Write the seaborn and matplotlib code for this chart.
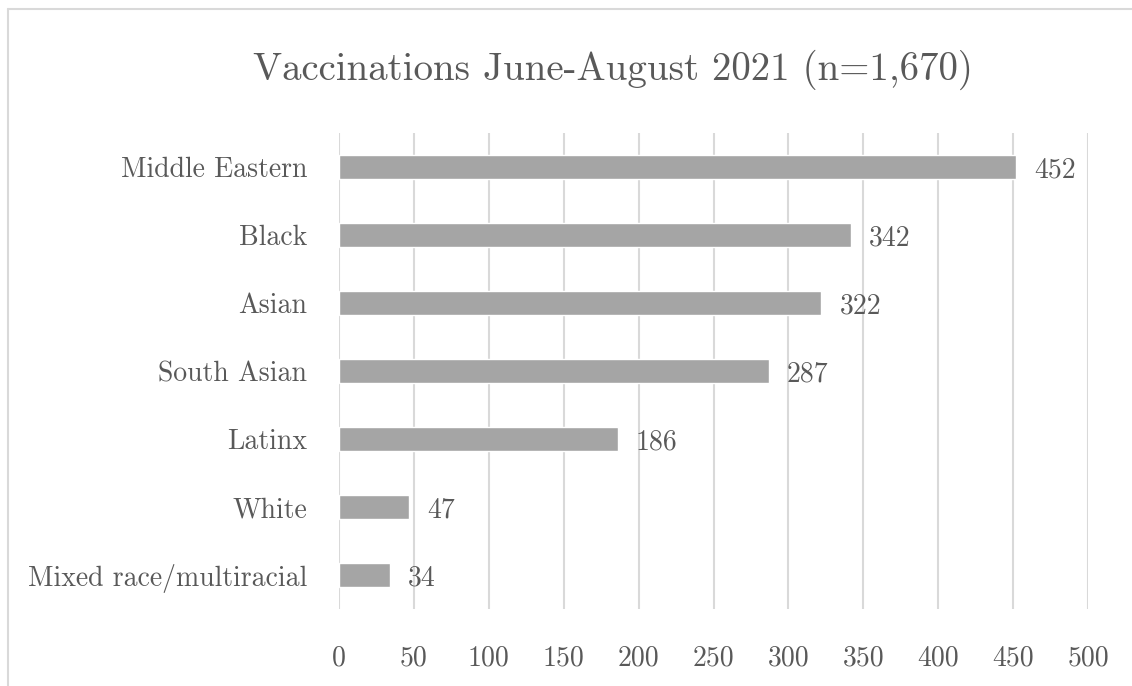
import matplotlib
matplotlib.use("Agg")
import matplotlib.pyplot as plt
import seaborn as sns
import pandas as pd
from matplotlib.lines import Line2D

categories = ["Middle Eastern", "Black", "Asian", "South Asian", "Latinx", "White",
              "Mixed race/multiracial"]
values = [452, 342, 322, 287, 186, 47, 34]
xticks = [0, 50, 100, 150, 200, 250, 300, 350, 400, 450, 500]
title = "Vaccinations June-August 2021 (n=1,670)"

sns.set_theme(style="white")
plt.rcParams["font.family"] = ["cmr10", "DejaVu Serif"]
plt.rcParams["axes.formatter.use_mathtext"] = True

TXT = "#595959"
BAR = "#a5a5a5"
GRID = "#d9d9d9"

df = pd.DataFrame({"group": categories, "count": values})

fig = plt.figure(figsize=(11.32, 6.86), dpi=100)
ax = fig.add_axes([339 / 1132, 1 - 609 / 686, (1088 - 339) / 1132, (609 - 133) / 686])

sns.barplot(data=df, x="count", y="group", orient="h", color=BAR, saturation=1,
            width=0.35, ax=ax, zorder=3)

ax.set_xlim(0, 500)
ax.set_xticks(xticks)
ax.set_xticklabels([str(t) for t in xticks])
ax.grid(axis="x", color=GRID, linewidth=1.5, zorder=0)
ax.grid(axis="y", visible=False)
for s in ["top", "right", "bottom", "left"]:
    ax.spines[s].set_visible(False)
ax.set_xlabel("")
ax.set_ylabel("")
ax.tick_params(axis="y", length=0, pad=23, labelsize=20, labelcolor=TXT)
ax.tick_params(axis="x", length=0, pad=26, labelsize=20, labelcolor=TXT)
for lab in ax.get_yticklabels():
    lab.set_va("center_baseline")

for bar_lab in ax.bar_label(ax.containers[0], labels=[str(v) for v in values],
                            padding=13, fontsize=20, color=TXT):
    bar_lab.set_va("center_baseline")

fig.text(613 / 1132, 1 - 80 / 686, title, ha="center", va="baseline",
         fontsize=28, color=TXT)

y_top = 1 - 9 / 686
x_left = 8 / 1132
fig.add_artist(Line2D([x_left, 1.0], [y_top, y_top], transform=fig.transFigure,
                      color=GRID, linewidth=1.5))
fig.add_artist(Line2D([x_left, x_left], [0.0, y_top], transform=fig.transFigure,
                      color=GRID, linewidth=1.5))

fig.savefig("out.png", dpi=100)
